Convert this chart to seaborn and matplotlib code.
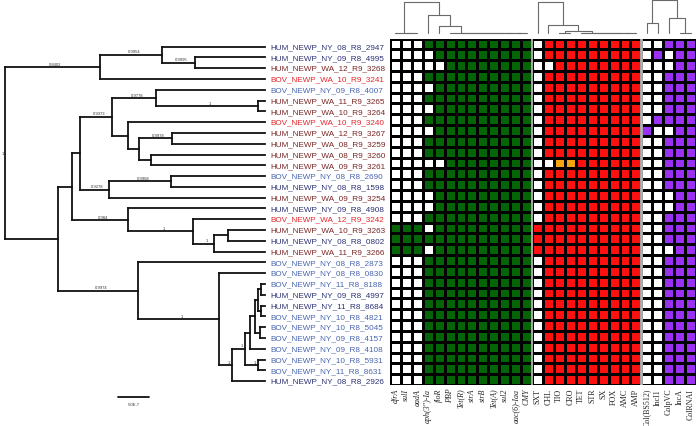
import matplotlib
matplotlib.use("Agg")
import numpy as np
import pandas as pd
import matplotlib.pyplot as plt
import seaborn as sns
from matplotlib.colors import ListedColormap

# isolates, top to bottom (tree / heatmap row order)
isolates = [
    "HUM_NEWP_NY_08_R8_2947", "HUM_NEWP_NY_09_R8_4995", "HUM_NEWP_WA_12_R9_3268",
    "BOV_NEWP_WA_10_R9_3241", "BOV_NEWP_NY_09_R8_4007", "HUM_NEWP_WA_11_R9_3265",
    "HUM_NEWP_WA_10_R9_3264", "BOV_NEWP_WA_10_R9_3240", "HUM_NEWP_WA_12_R9_3267",
    "HUM_NEWP_WA_08_R9_3259", "HUM_NEWP_WA_08_R9_3260", "HUM_NEWP_WA_09_R9_3261",
    "BOV_NEWP_NY_08_R8_2690", "HUM_NEWP_NY_08_R8_1598", "HUM_NEWP_WA_09_R9_3254",
    "HUM_NEWP_NY_09_R8_4908", "BOV_NEWP_WA_12_R9_3242", "HUM_NEWP_WA_10_R9_3263",
    "HUM_NEWP_NY_08_R8_0802", "HUM_NEWP_WA_11_R9_3266", "BOV_NEWP_NY_08_R8_2873",
    "BOV_NEWP_NY_08_R8_0830", "BOV_NEWP_NY_11_R8_8188", "HUM_NEWP_NY_09_R8_4997",
    "HUM_NEWP_NY_11_R8_8684", "BOV_NEWP_NY_10_R8_4821", "BOV_NEWP_NY_10_R8_5045",
    "BOV_NEWP_NY_09_R8_4157", "BOV_NEWP_NY_09_R8_4108", "BOV_NEWP_NY_10_R8_5931",
    "BOV_NEWP_NY_11_R8_8631", "HUM_NEWP_NY_08_R8_2926",
]

# ML tree, leaves are indices into isolates, internal labels = bootstrap support
tree_nwk = (
    "(((0,(1,2)0.9995:33)0.9954:62,3)0.8402:95,"
    "(((((4,(5,6)1:102)0.9778:44,(7,((8,9)0.9978:33,(10,11):12):11):16)0.9373:32,"
    "((12,13)0.9968:62,14)0.9278:29):8,"
    "(15,(16,((17,18):14,19)1:21)1:65)0.984:56):14,"
    "(20,(21,((((((22,23):3,(24,25):3):3,(26,27):5):5,28):5,(29,30)1:13)1:13,31)1:13)1:81)0.9974:80):53)1;"
)
scale_bar_len = 31
scale_bar_label = "5.0E-7"

genes = ["dfrA", "sulI", "aadA", "aph(3'')-Ia", "floR", "PBP", "Tet(R)", "strA",
         "strB", "Tet(A)", "sul2", "aac(6)-Iaa", "CMY"]
drugs = ["SXT", "CHL", "TIO", "CRO", "TET", "STR", "SX", "FOX", "AMC", "AMP"]
plasmids = ["Col(BS512)", "IncI1", "ColpVC", "IncA", "ColRNAI"]

# 1 = gene present
gene_profile = [
    "0001111111111", "0000111111111", "0000011111111", "0001111111111",
    "0000111111111", "0001111111111", "0000111111111", "0001111111111",
    "0000111111111", "0001111111111", "0001111111111", "0000011111111",
    "0001111111111", "0001111111111", "0000111111111", "0000111111111",
    "0001111111111", "1110111111111", "1111111111111", "1110111111111",
    "0001111111111", "0001111111111", "0001111111111", "0001111111111",
    "0001111111111", "0001111111111", "0001111111111", "0001111111111",
    "0001111111111", "0001111111111", "0001111111111", "0001111111111",
]
# R = resistant, I = intermediate, S = susceptible
ast_profile = [
    "SRRRRRRRRR", "SRRRRRRRRR", "SSRRRRRRRR", "SRRRRRRRRR",
    "SRRRRRRRRR", "SRRRRRRRRR", "SRRRRRRRRR", "SRRRRRRRRR",
    "SRRRRRRRRR", "SRRRRRRRRR", "SRRRRRRRRR", "SSIIRRRRRR",
    "SRRRRRRRRR", "SRRRRRRRRR", "SRRRRRRRRR", "SRRRRRRRRR",
    "SRRRRRRRRR", "RRRRRRRRRR", "RRRRRRRRRR", "RRRRRRRRRR",
    "SRRRRRRRRR", "SRRRRRRRRR", "SRRRRRRRRR", "SRRRRRRRRR",
    "SRRRRRRRRR", "SRRRRRRRRR", "SRRRRRRRRR", "SRRRRRRRRR",
    "SRRRRRRRRR", "SRRRRRRRRR", "SRRRRRRRRR", "SRRRRRRRRR",
]
plasmid_profile = [
    "00111", "01011", "00011", "00111", "00111", "00111", "00111", "01111",
    "10011", "00111", "00111", "00111", "00111", "00111", "00011", "00011",
    "00111", "00111", "00111", "00011", "00111", "00111", "00111", "00111",
    "00111", "00111", "00111", "00111", "00111", "00111", "00111", "00111",
]

# column dendrograms (a, b, height), scipy-like ids
gene_links = [(1, 2, 0), (0, 13, 0), (11, 12, 0), (10, 15, 0), (9, 16, 0), (8, 17, 0),
              (7, 18, 0), (6, 19, 0), (5, 20, 0), (4, 21, 7), (3, 22, 18), (14, 23, 31)]
drug_links = [(2, 3, 0), (8, 9, 0), (7, 11, 0), (6, 12, 0), (5, 13, 0), (4, 14, 0),
              (10, 15, 2), (1, 16, 8), (0, 17, 31)]
plasmid_links = [(0, 1, 10), (3, 4, 0), (2, 6, 15), (5, 7, 33)]

label_colors = {("HUM", "NY"): "#2b3275", ("BOV", "NY"): "#4a66b0",
                ("HUM", "WA"): "#7a2525", ("BOV", "WA"): "#e3262b"}
cell_colors = ["white", "#056405", "#ff1010", "#f5a30f", "#9a30f2"]

# ---- build heatmap matrix
gene_m = np.array([[int(c) for c in r] for r in gene_profile])
ast_m = np.array([[{"S": 0, "R": 2, "I": 3}[c] for c in r] for r in ast_profile])
pl_m = np.array([[4 * int(c) for c in r] for r in plasmid_profile])
mat = pd.DataFrame(np.hstack([gene_m, ast_m, pl_m]), index=isolates,
                   columns=genes + drugs + plasmids)

sns.set_style("white")
plt.rcParams["font.family"] = ["Liberation Sans", "DejaVu Sans"]

W, H = 696, 427
fig = plt.figure(figsize=(W / 100, H / 100), dpi=100)


def px_axes(x0, y0, x1, y1):
    return fig.add_axes([x0 / W, 1 - y1 / H, (x1 - x0) / W, (y1 - y0) / H])


# ---- heatmap
hax = px_axes(390, 39.5, 696, 386)
sns.heatmap(mat, ax=hax, cmap=ListedColormap(cell_colors), vmin=-0.5, vmax=4.5,
            cbar=False, linewidths=0.75, linecolor="black",
            xticklabels=True, yticklabels=False)
hax.tick_params(axis="x", length=0, pad=2)
for i, lbl in enumerate(hax.get_xticklabels()):
    lbl.set_rotation(90)
    lbl.set_fontsize(5.8)
    lbl.set_family("Liberation Serif")
    if i < len(genes):
        lbl.set_fontstyle("italic")
hax.set_xlabel("")
hax.set_ylabel("")
ng, nd = len(genes), len(drugs)
hax.axvline(ng, color="#b5b5b5", lw=1.3)
hax.axvline(ng + nd, color="#b5b5b5", lw=2.0)

# ---- column dendrograms
dax = px_axes(390, 0, 696, 34)
dax.set_xlim(0, mat.shape[1])
dax.set_ylim(0, 34)
dax.axis("off")


def draw_dendro(links, offset, n):
    pos = {i: offset + i + 0.5 for i in range(n)}
    hgt = {i: 0 for i in range(n)}
    for k, (a, b, h) in enumerate(links):
        dax.plot([pos[a], pos[a], pos[b], pos[b]], [hgt[a], h, h, hgt[b]],
                 color="#6a6a6a", lw=0.8, clip_on=False)
        pos[n + k] = (pos[a] + pos[b]) / 2
        hgt[n + k] = h


draw_dendro(gene_links, 0, ng)
draw_dendro(drug_links, ng, nd)
draw_dendro(plasmid_links, ng + nd, len(plasmids))


# ---- phylogenetic tree
def parse_newick(s):
    pos = 0

    def node():
        nonlocal pos
        kids = []
        if s[pos] == "(":
            pos += 1
            kids.append(node())
            while s[pos] == ",":
                pos += 1
                kids.append(node())
            pos += 1
        start = pos
        while s[pos] not in ",():;":
            pos += 1
        name = s[start:pos]
        length = 0.0
        if s[pos] == ":":
            pos += 1
            start = pos
            while s[pos] not in ",();":
                pos += 1
            length = float(s[start:pos])
        return {"name": name, "len": length, "kids": kids}

    return node()


def layout(nd_, x):
    nd_["x"] = x + nd_["len"]
    if not nd_["kids"]:
        nd_["y"] = int(nd_["name"])
        return
    for k in nd_["kids"]:
        layout(k, nd_["x"])
    nd_["y"] = (nd_["kids"][0]["y"] + nd_["kids"][-1]["y"]) / 2


tree = parse_newick(tree_nwk)
layout(tree, 0)

tax = px_axes(0, 0, 390, H)
tax.set_xlim(0, 390)
row0, row_h = 47.6, 10.79
tax.set_ylim((H - row0) / row_h, -row0 / row_h)
tax.axis("off")
x0, tip = 5, 260
lw_tree = 1.3


def draw_tree(nd_):
    kids = nd_["kids"]
    if not kids:
        return
    tax.plot([x0 + nd_["x"]] * 2, [kids[0]["y"], kids[-1]["y"]], color="#111111",
             lw=lw_tree, solid_capstyle="projecting")
    for k in kids:
        end = k["x"] if k["kids"] else tip
        tax.plot([x0 + nd_["x"], x0 + end], [k["y"], k["y"]], color="#111111",
                 lw=lw_tree, solid_capstyle="projecting")
        if k["kids"] and k["name"]:
            tax.text(x0 + nd_["x"] + k["len"] / 2 + 3, k["y"] - 0.12, k["name"],
                     fontsize=3.0, color="#333333", ha="center", va="bottom")
        draw_tree(k)


draw_tree(tree)
tax.text(x0 - 1, tree["y"], tree["name"], fontsize=3.0, color="#333333",
         ha="right", va="center")

for r, name in enumerate(isolates):
    host, state = name.split("_")[0], name.split("_")[2]
    tax.text(270, r, name, fontsize=5.9, color=label_colors[(host, state)],
             ha="left", va="center")

# scale bar
sb_y = (398 - row0) / row_h
tax.plot([118, 118 + scale_bar_len], [sb_y, sb_y], color="#111111", lw=lw_tree)
tax.text(118 + scale_bar_len / 2, sb_y + 0.65, scale_bar_label, fontsize=3.0,
         color="#333333", ha="center", va="center")

fig.savefig("out.png", dpi=100)
